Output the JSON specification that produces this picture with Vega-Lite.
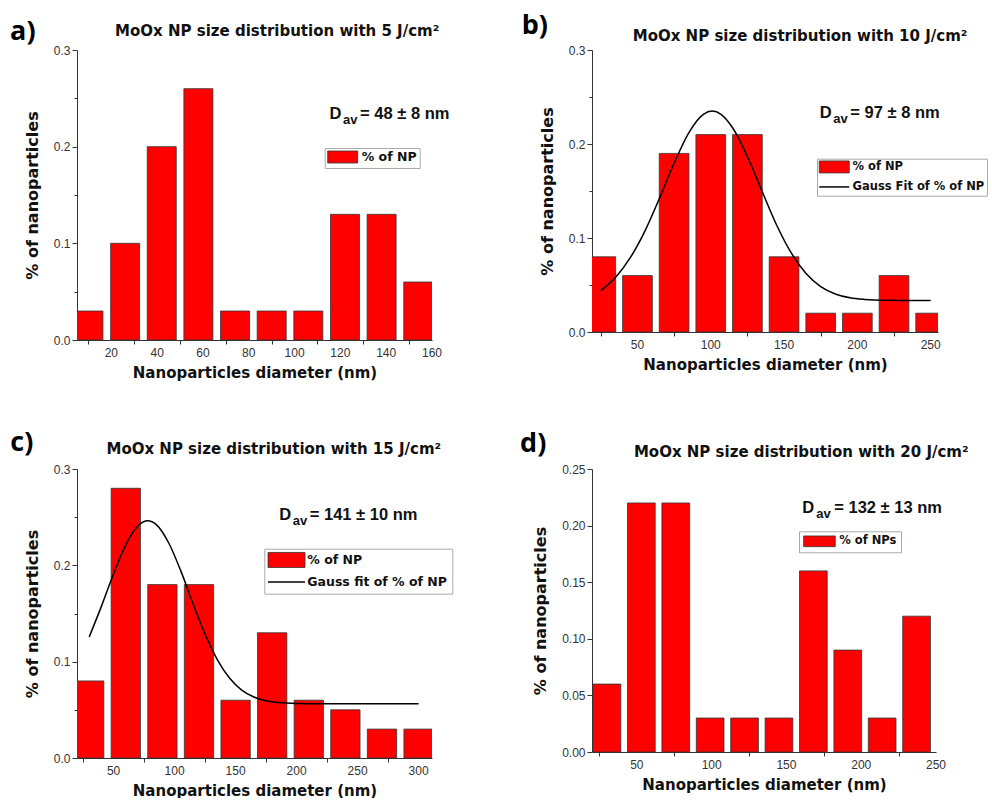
{
  "$schema": "https://vega.github.io/schema/vega-lite/v6.json",
  "background": "white",
  "padding": {"left": 10, "top": 12, "right": 0, "bottom": 0},
  "config": {
    "view": {"stroke": null},
    "axis": {"grid": false, "labelFlush": false, "labelOverlap": false, "domainColor": "#333", "tickColor": "#333", "labelFont": "Liberation Sans", "labelFontSize": 12, "labelColor": "#333", "labelPadding": 2, "titleFont": "DejaVu Sans", "titleFontWeight": "bold", "titleColor": "#111"},
    "axisX": {"titleFontSize": 15, "titlePadding": 8, "tickSize": 4},
    "axisY": {"titleFontSize": 16, "titlePadding": 13},
    "legend": {"title": null, "orient": "none", "strokeColor": "#aaa", "fillColor": "white", "labelFont": "DejaVu Sans", "labelFontWeight": "bold", "labelColor": "#111", "symbolStrokeWidth": 0.8, "symbolStrokeColor": "#333", "symbolFillColor": "#ff0000", "symbolOpacity": 1}
  },
  "datasets": {
    "a": [
      {"diameter": 10, "fraction": 0.03}, {"diameter": 26, "fraction": 0.10}, {"diameter": 42, "fraction": 0.20}, {"diameter": 58, "fraction": 0.26}, {"diameter": 74, "fraction": 0.03},
      {"diameter": 90, "fraction": 0.03}, {"diameter": 106, "fraction": 0.03}, {"diameter": 122, "fraction": 0.13}, {"diameter": 138, "fraction": 0.13}, {"diameter": 154, "fraction": 0.06}
    ],
    "b": [
      {"diameter": 25, "fraction": 0.08}, {"diameter": 50, "fraction": 0.06}, {"diameter": 75, "fraction": 0.19}, {"diameter": 100, "fraction": 0.21}, {"diameter": 125, "fraction": 0.21},
      {"diameter": 150, "fraction": 0.08}, {"diameter": 175, "fraction": 0.02}, {"diameter": 200, "fraction": 0.02}, {"diameter": 225, "fraction": 0.06}, {"diameter": 250, "fraction": 0.02}
    ],
    "c": [
      {"diameter": 30, "fraction": 0.08}, {"diameter": 60, "fraction": 0.28}, {"diameter": 90, "fraction": 0.18}, {"diameter": 120, "fraction": 0.18}, {"diameter": 150, "fraction": 0.06},
      {"diameter": 180, "fraction": 0.13}, {"diameter": 210, "fraction": 0.06}, {"diameter": 240, "fraction": 0.05}, {"diameter": 270, "fraction": 0.03}, {"diameter": 300, "fraction": 0.03}
    ],
    "d": [
      {"diameter": 30, "fraction": 0.06}, {"diameter": 53, "fraction": 0.22}, {"diameter": 76, "fraction": 0.22}, {"diameter": 99, "fraction": 0.03}, {"diameter": 122, "fraction": 0.03},
      {"diameter": 145, "fraction": 0.03}, {"diameter": 168, "fraction": 0.16}, {"diameter": 191, "fraction": 0.09}, {"diameter": 214, "fraction": 0.03}, {"diameter": 237, "fraction": 0.12}
    ],
    "fitb": [
      {"diameter": 25, "fraction": 0.0440}, {"diameter": 35, "fraction": 0.0580}, {"diameter": 45, "fraction": 0.0788}, {"diameter": 55, "fraction": 0.1071},
      {"diameter": 65, "fraction": 0.1422}, {"diameter": 75, "fraction": 0.1795}, {"diameter": 85, "fraction": 0.2119}, {"diameter": 95, "fraction": 0.2316},
      {"diameter": 101, "fraction": 0.2350}, {"diameter": 107, "fraction": 0.2316}, {"diameter": 115, "fraction": 0.2170}, {"diameter": 125, "fraction": 0.1867},
      {"diameter": 135, "fraction": 0.1497}, {"diameter": 145, "fraction": 0.1136}, {"diameter": 155, "fraction": 0.0838}, {"diameter": 165, "fraction": 0.0622},
      {"diameter": 175, "fraction": 0.0483}, {"diameter": 185, "fraction": 0.0405}, {"diameter": 195, "fraction": 0.0365}, {"diameter": 205, "fraction": 0.0347},
      {"diameter": 220, "fraction": 0.0337}, {"diameter": 235, "fraction": 0.0335}, {"diameter": 250, "fraction": 0.0335}
    ],
    "fitc": [
      {"diameter": 30, "fraction": 0.1257}, {"diameter": 40, "fraction": 0.1574}, {"diameter": 50, "fraction": 0.1912}, {"diameter": 60, "fraction": 0.2212},
      {"diameter": 70, "fraction": 0.2411}, {"diameter": 78, "fraction": 0.2463}, {"diameter": 85, "fraction": 0.2423}, {"diameter": 95, "fraction": 0.2237},
      {"diameter": 105, "fraction": 0.1945}, {"diameter": 115, "fraction": 0.1607}, {"diameter": 125, "fraction": 0.1287}, {"diameter": 135, "fraction": 0.1022},
      {"diameter": 145, "fraction": 0.0830}, {"diameter": 155, "fraction": 0.0705}, {"diameter": 165, "fraction": 0.0633}, {"diameter": 175, "fraction": 0.0594},
      {"diameter": 185, "fraction": 0.0576}, {"diameter": 200, "fraction": 0.0566}, {"diameter": 220, "fraction": 0.0563}, {"diameter": 260, "fraction": 0.0563},
      {"diameter": 300, "fraction": 0.0563}
    ],
    "ticksa": [{"diameter": 20}, {"diameter": 40}, {"diameter": 60}, {"diameter": 80}, {"diameter": 100}, {"diameter": 120}, {"diameter": 140}, {"diameter": 160}],
    "ticksb": [{"diameter": 50}, {"diameter": 100}, {"diameter": 150}, {"diameter": 200}, {"diameter": 250}],
    "ticksc": [{"diameter": 50}, {"diameter": 100}, {"diameter": 150}, {"diameter": 200}, {"diameter": 250}, {"diameter": 300}]
  },
  "bounds": "flush",
  "columns": 2,
  "spacing": {"row": 129, "column": 160},
  "resolve": {"scale": {"color": "independent", "x": "independent", "y": "independent"}, "legend": {"color": "independent"}},
  "concat": [
    {
      "width": 355, "height": 290,
      "layer": [
        {
          "data": {"name": "a"},
          "mark": {"type": "bar", "clip": true, "width": 29, "stroke": "#333", "strokeWidth": 0.8},
          "encoding": {
            "x": {"field": "diameter", "type": "quantitative", "scale": {"domain": [5, 160], "nice": false, "zero": false, "padding": 0},
              "axis": {"title": "Nanoparticles diameter (nm)", "values": [10, 20, 30, 40, 50, 60, 70, 80, 90, 100, 110, 120, 130, 140, 150, 160], "labelOverlap": false,
                "labelExpr": "round(datum.value) % 20 == 0 ? '' + round(datum.value) : ''"}},
            "y": {"field": "fraction", "type": "quantitative", "scale": {"domain": [0, 0.3], "nice": false},
              "axis": {"title": "% of nanoparticles", "values": [0, 0.05, 0.1, 0.15, 0.2, 0.25, 0.3], "labelOverlap": false,
                "labelExpr": "round(datum.value*100) % 10 == 0 ? format(datum.value, '.1f') : ''", "tickSize": {"condition": {"test": "round(datum.value*100) % 10 == 0", "value": 5}, "value": 3}}},
            "color": {"datum": "% of NP", "type": "nominal", "scale": {"domain": ["% of NP"], "range": ["#ff0000"]},
              "legend": {"legendX": 247.7, "legendY": 98, "padding": 2.5, "symbolType": "M-1,-1H4V1H-1Z", "symbolSize": 144, "labelOffset": 21.5, "labelFontSize": 12.5}}
          }
        },
        {"data": {"name": "ticksa"}, "mark": {"type": "text", "font": "Liberation Sans", "fontSize": 12, "align": "center", "baseline": "top", "dy": 8, "color": "#333"}, "encoding": {"x": {"field": "diameter", "type": "quantitative"}, "y": {"datum": 0}, "text": {"field": "diameter", "type": "quantitative"}}},
        {"data": {"values": [{}]}, "mark": {"type": "text", "text": "a)", "font": "Open Sans", "fontSize": 27, "fontWeight": "bold", "align": "left", "baseline": "alphabetic", "color": "#000"}, "encoding": {"x": {"datum": -24.2}, "y": {"datum": 0.3103}}},
        {"data": {"values": [{}]}, "mark": {"type": "text", "text": "MoOx NP size distribution with 5 J/cm²", "font": "DejaVu Sans", "fontSize": 15, "fontWeight": "bold", "align": "center", "baseline": "alphabetic", "color": "#111"}, "encoding": {"x": {"datum": 92.4}, "y": {"datum": 0.314}}},
        {"data": {"values": [{}]}, "mark": {"type": "text", "text": "D", "font": "Liberation Sans", "fontSize": 16.5, "fontWeight": "bold", "align": "left", "baseline": "alphabetic", "color": "#111"}, "encoding": {"x": {"datum": 115.3}, "y": {"datum": 0.2286}}},
        {"data": {"values": [{}]}, "mark": {"type": "text", "text": "av", "font": "Liberation Sans", "fontSize": 13, "fontWeight": "bold", "align": "left", "baseline": "alphabetic", "dx": 13.5, "dy": 5, "color": "#111"}, "encoding": {"x": {"datum": 115.3}, "y": {"datum": 0.2286}}},
        {"data": {"values": [{}]}, "mark": {"type": "text", "text": "= 48 ± 8 nm", "font": "Liberation Sans", "fontSize": 16.5, "fontWeight": "bold", "align": "left", "baseline": "alphabetic", "dx": 30.5, "color": "#111"}, "encoding": {"x": {"datum": 115.3}, "y": {"datum": 0.2286}}}
      ]
    },
    {
      "width": 346, "height": 282,
      "layer": [
        {
          "data": {"name": "b"},
          "mark": {"type": "bar", "clip": true, "width": 29.7, "stroke": "#333", "strokeWidth": 0.8},
          "encoding": {
            "x": {"field": "diameter", "type": "quantitative", "scale": {"domain": [19, 255], "nice": false, "zero": false, "padding": 0},
              "axis": {"title": "Nanoparticles diameter (nm)", "values": [25, 50, 75, 100, 125, 150, 175, 200, 225, 250], "labelOverlap": false,
                "labelExpr": "round(datum.value) % 50 == 0 ? '' + round(datum.value) : ''"}},
            "y": {"field": "fraction", "type": "quantitative", "scale": {"domain": [0, 0.3], "nice": false},
              "axis": {"title": "% of nanoparticles", "values": [0, 0.05, 0.1, 0.15, 0.2, 0.25, 0.3], "labelOverlap": false,
                "labelExpr": "round(datum.value*100) % 10 == 0 ? format(datum.value, '.1f') : ''", "tickSize": {"condition": {"test": "round(datum.value*100) % 10 == 0", "value": 5}, "value": 3}}},
            "color": {"datum": "% of NP", "type": "nominal", "scale": {"domain": ["% of NP", "Gauss Fit of % of NP"], "range": ["#ff0000", "#000000"]},
              "legend": {"legendX": 225, "legendY": 108.7, "padding": 2.5, "symbolType": "M-1,-1H4V1H-1Z", "symbolSize": 144, "labelOffset": 21.5, "labelFontSize": 11.5, "rowPadding": 5,
                "encode": {"symbols": {"update": {
                  "shape": {"signal": "datum.value === 'Gauss Fit of % of NP' ? 'M-1,0H4' : 'M-1,-1H4V1H-1Z'"},
                  "fill": {"signal": "datum.value === 'Gauss Fit of % of NP' ? 'transparent' : '#ff0000'"},
                  "stroke": {"signal": "datum.value === 'Gauss Fit of % of NP' ? '#000000' : '#333333'"},
                  "strokeWidth": {"signal": "datum.value === 'Gauss Fit of % of NP' ? 1.5 : 0.8"}}}}}}
          }
        },
        {
          "data": {"name": "fitb"},
          "mark": {"type": "line", "color": "#000000", "strokeWidth": 1.5, "interpolate": "monotone", "clip": true},
          "encoding": {"x": {"field": "diameter", "type": "quantitative"}, "y": {"field": "fraction", "type": "quantitative"}}
        },
        {"data": {"name": "ticksb"}, "mark": {"type": "text", "font": "Liberation Sans", "fontSize": 12, "align": "center", "baseline": "top", "dy": 8, "color": "#333"}, "encoding": {"x": {"field": "diameter", "type": "quantitative"}, "y": {"datum": 0}, "text": {"field": "diameter", "type": "quantitative"}}},
        {"data": {"values": [{}]}, "mark": {"type": "text", "text": "b)", "font": "Open Sans", "fontSize": 27, "fontWeight": "bold", "align": "left", "baseline": "alphabetic", "color": "#000"}, "encoding": {"x": {"datum": -28.9}, "y": {"datum": 0.3167}}},
        {"data": {"values": [{}]}, "mark": {"type": "text", "text": "MoOx NP size distribution with 10 J/cm²", "font": "DejaVu Sans", "fontSize": 15, "fontWeight": "bold", "align": "center", "baseline": "alphabetic", "color": "#111"}, "encoding": {"x": {"datum": 160.9}, "y": {"datum": 0.3099}}},
        {"data": {"values": [{}]}, "mark": {"type": "text", "text": "D", "font": "Liberation Sans", "fontSize": 16.5, "fontWeight": "bold", "align": "left", "baseline": "alphabetic", "color": "#111"}, "encoding": {"x": {"datum": 174.4}, "y": {"datum": 0.228}}},
        {"data": {"values": [{}]}, "mark": {"type": "text", "text": "av", "font": "Liberation Sans", "fontSize": 13, "fontWeight": "bold", "align": "left", "baseline": "alphabetic", "dx": 13.5, "dy": 5, "color": "#111"}, "encoding": {"x": {"datum": 174.4}, "y": {"datum": 0.228}}},
        {"data": {"values": [{}]}, "mark": {"type": "text", "text": "= 97 ± 8 nm", "font": "Liberation Sans", "fontSize": 16.5, "fontWeight": "bold", "align": "left", "baseline": "alphabetic", "dx": 30.5, "color": "#111"}, "encoding": {"x": {"datum": 174.4}, "y": {"datum": 0.228}}}
      ]
    },
    {
      "width": 355, "height": 289,
      "layer": [
        {
          "data": {"name": "c"},
          "mark": {"type": "bar", "clip": true, "width": 29.3, "stroke": "#333", "strokeWidth": 0.8},
          "encoding": {
            "x": {"field": "diameter", "type": "quantitative", "scale": {"domain": [20, 311], "nice": false, "zero": false, "padding": 0},
              "axis": {"title": "Nanoparticles diameter (nm)", "values": [25, 50, 75, 100, 125, 150, 175, 200, 225, 250, 275, 300], "labelOverlap": false,
                "labelExpr": "round(datum.value) % 50 == 0 ? '' + round(datum.value) : ''"}},
            "y": {"field": "fraction", "type": "quantitative", "scale": {"domain": [0, 0.3], "nice": false},
              "axis": {"title": "% of nanoparticles", "values": [0, 0.05, 0.1, 0.15, 0.2, 0.25, 0.3], "labelOverlap": false,
                "labelExpr": "round(datum.value*100) % 10 == 0 ? format(datum.value, '.1f') : ''", "tickSize": {"condition": {"test": "round(datum.value*100) % 10 == 0", "value": 5}, "value": 3}}},
            "color": {"datum": "% of NP", "type": "nominal", "scale": {"domain": ["% of NP", "Gauss fit of % of NP"], "range": ["#ff0000", "#000000"]},
              "legend": {"legendX": 187.3, "legendY": 79.7, "padding": 5, "symbolType": "M-1,-1H3.93V1H-1Z", "symbolSize": 225, "labelOffset": 25.5, "labelFontSize": 12.5, "rowPadding": 6,
                "encode": {"symbols": {"update": {
                  "shape": {"signal": "datum.value === 'Gauss fit of % of NP' ? 'M-1,0H3.93' : 'M-1,-1H3.93V1H-1Z'"},
                  "fill": {"signal": "datum.value === 'Gauss fit of % of NP' ? 'transparent' : '#ff0000'"},
                  "stroke": {"signal": "datum.value === 'Gauss fit of % of NP' ? '#000000' : '#333333'"},
                  "strokeWidth": {"signal": "datum.value === 'Gauss fit of % of NP' ? 1.5 : 0.8"}}}}}}
          }
        },
        {
          "data": {"name": "fitc"},
          "mark": {"type": "line", "color": "#000000", "strokeWidth": 1.5, "interpolate": "monotone", "clip": true},
          "encoding": {"x": {"field": "diameter", "type": "quantitative"}, "y": {"field": "fraction", "type": "quantitative"}}
        },
        {"data": {"name": "ticksc"}, "mark": {"type": "text", "font": "Liberation Sans", "fontSize": 12, "align": "center", "baseline": "top", "dy": 8, "color": "#333"}, "encoding": {"x": {"field": "diameter", "type": "quantitative"}, "y": {"datum": 0}, "text": {"field": "diameter", "type": "quantitative"}}},
        {"data": {"values": [{}]}, "mark": {"type": "text", "text": "c)", "font": "Open Sans", "fontSize": 27, "fontWeight": "bold", "align": "left", "baseline": "alphabetic", "color": "#000"}, "encoding": {"x": {"datum": -34.7}, "y": {"datum": 0.3184}}},
        {"data": {"values": [{}]}, "mark": {"type": "text", "text": "MoOx NP size distribution with 15 J/cm²", "font": "DejaVu Sans", "fontSize": 15, "fontWeight": "bold", "align": "center", "baseline": "alphabetic", "color": "#111"}, "encoding": {"x": {"datum": 181.3}, "y": {"datum": 0.316}}},
        {"data": {"values": [{}]}, "mark": {"type": "text", "text": "D", "font": "Liberation Sans", "fontSize": 16.5, "fontWeight": "bold", "align": "left", "baseline": "alphabetic", "color": "#111"}, "encoding": {"x": {"datum": 185.8}, "y": {"datum": 0.2473}}},
        {"data": {"values": [{}]}, "mark": {"type": "text", "text": "av", "font": "Liberation Sans", "fontSize": 13, "fontWeight": "bold", "align": "left", "baseline": "alphabetic", "dx": 13.5, "dy": 5, "color": "#111"}, "encoding": {"x": {"datum": 185.8}, "y": {"datum": 0.2473}}},
        {"data": {"values": [{}]}, "mark": {"type": "text", "text": "= 141 ± 10 nm", "font": "Liberation Sans", "fontSize": 16.5, "fontWeight": "bold", "align": "left", "baseline": "alphabetic", "dx": 30.5, "color": "#111"}, "encoding": {"x": {"datum": 185.8}, "y": {"datum": 0.2473}}}
      ]
    },
    {
      "width": 344, "height": 283,
      "layer": [
        {
          "data": {"name": "d"},
          "mark": {"type": "bar", "clip": true, "width": 27.7, "stroke": "#333", "strokeWidth": 0.8},
          "encoding": {
            "x": {"field": "diameter", "type": "quantitative", "scale": {"domain": [20, 250], "nice": false, "zero": false, "padding": 0},
              "axis": {"title": "Nanoparticles diameter (nm)", "values": [25, 50, 75, 100, 125, 150, 175, 200, 225, 250], "labelOverlap": false,
                "labelExpr": "round(datum.value) % 50 == 0 ? '' + round(datum.value) : ''"}},
            "y": {"field": "fraction", "type": "quantitative", "scale": {"domain": [0, 0.25], "nice": false},
              "axis": {"title": "% of nanoparticles", "values": [0, 0.025, 0.05, 0.075, 0.1, 0.125, 0.15, 0.175, 0.2, 0.225, 0.25], "labelOverlap": false,
                "labelExpr": "round(datum.value*1000) % 50 == 0 ? format(datum.value, '.2f') : ''", "tickSize": {"condition": {"test": "round(datum.value*1000) % 50 == 0", "value": 5}, "value": 3}}},
            "color": {"datum": "% of NPs", "type": "nominal", "scale": {"domain": ["% of NPs"], "range": ["#ff0000"]},
              "legend": {"legendX": 207, "legendY": 62.3, "padding": 4, "symbolType": "M-1,-1H4.92V1H-1Z", "symbolSize": 114, "labelOffset": 24.3, "labelFontSize": 11.5}}
          }
        },
        {"data": {"name": "ticksb"}, "mark": {"type": "text", "font": "Liberation Sans", "fontSize": 12, "align": "center", "baseline": "top", "dy": 8, "color": "#333"}, "encoding": {"x": {"field": "diameter", "type": "quantitative"}, "y": {"datum": 0}, "text": {"field": "diameter", "type": "quantitative"}}},
        {"data": {"values": [{}]}, "mark": {"type": "text", "text": "d)", "font": "Open Sans", "fontSize": 27, "fontWeight": "bold", "align": "left", "baseline": "alphabetic", "color": "#000"}, "encoding": {"x": {"datum": -28.1}, "y": {"datum": 0.2647}}},
        {"data": {"values": [{}]}, "mark": {"type": "text", "text": "MoOx NP size distribution with 20 J/cm²", "font": "DejaVu Sans", "fontSize": 15, "fontWeight": "bold", "align": "center", "baseline": "alphabetic", "color": "#111"}, "encoding": {"x": {"datum": 159.9}, "y": {"datum": 0.2602}}},
        {"data": {"values": [{}]}, "mark": {"type": "text", "text": "D", "font": "Liberation Sans", "fontSize": 16.5, "fontWeight": "bold", "align": "left", "baseline": "alphabetic", "color": "#111"}, "encoding": {"x": {"datum": 160.6}, "y": {"datum": 0.2114}}},
        {"data": {"values": [{}]}, "mark": {"type": "text", "text": "av", "font": "Liberation Sans", "fontSize": 13, "fontWeight": "bold", "align": "left", "baseline": "alphabetic", "dx": 14, "dy": 5, "color": "#111"}, "encoding": {"x": {"datum": 160.6}, "y": {"datum": 0.2114}}},
        {"data": {"values": [{}]}, "mark": {"type": "text", "text": "= 132 ± 13 nm", "font": "Liberation Sans", "fontSize": 16.5, "fontWeight": "bold", "align": "left", "baseline": "alphabetic", "dx": 32, "color": "#111"}, "encoding": {"x": {"datum": 160.6}, "y": {"datum": 0.2114}}}
      ]
    }
  ]
}
